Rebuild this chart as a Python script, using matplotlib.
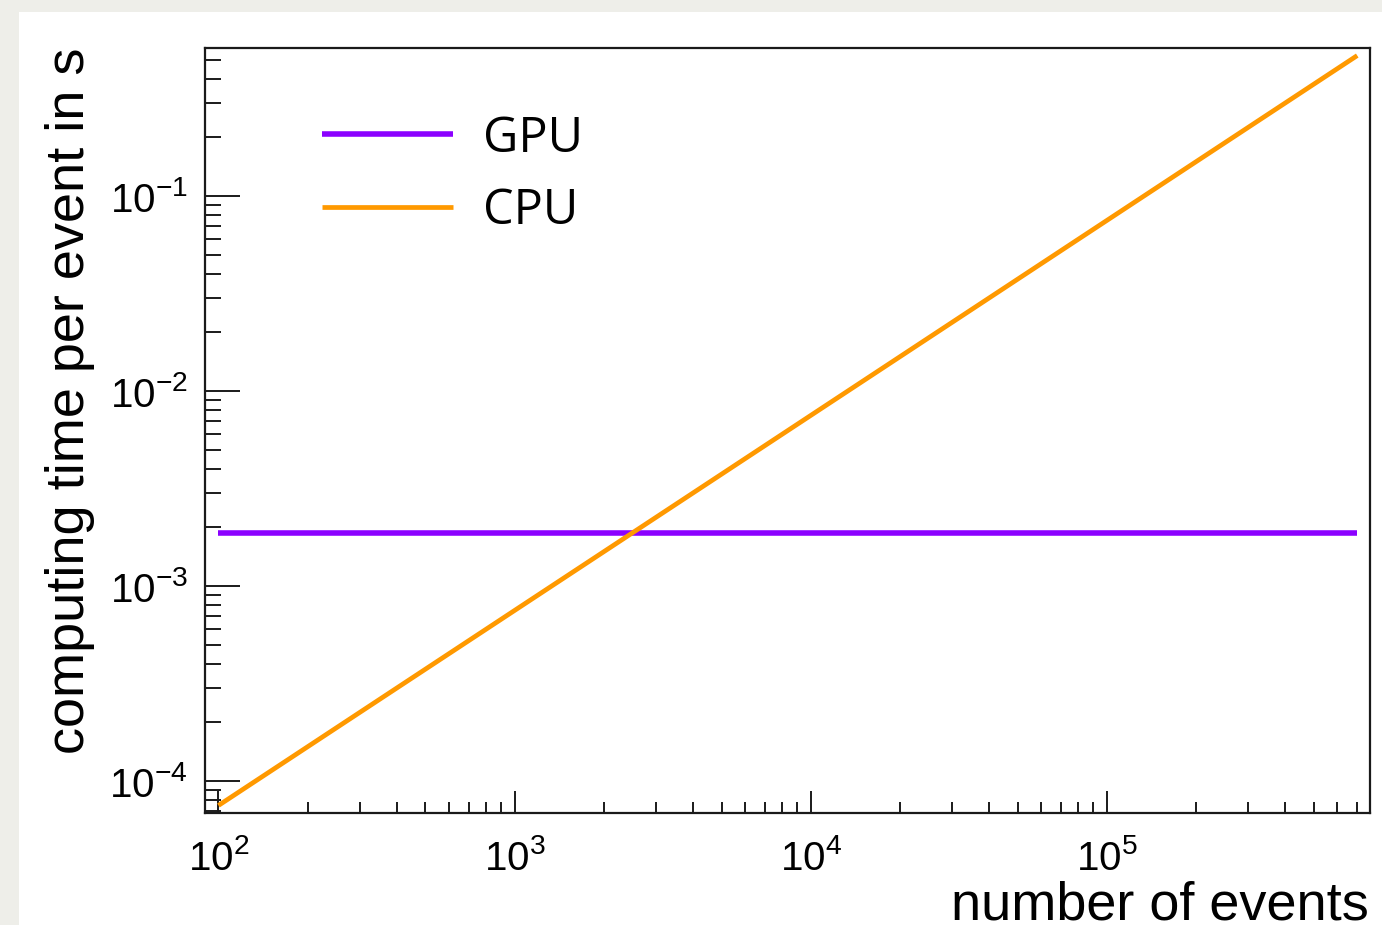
import matplotlib
matplotlib.use("Agg")
import matplotlib.pyplot as plt
from matplotlib.patches import Rectangle
from matplotlib.ticker import LogLocator, NullFormatter

# ---- data ----
n_events = [100, 1000, 10000, 100000, 700000]
gpu_time = [1.86e-3, 1.86e-3, 1.86e-3, 1.86e-3, 1.86e-3]
cpu_time = [7.5e-5, 7.5e-4, 7.5e-3, 7.5e-2, 0.525]
series_labels = ["GPU", "CPU"]
x_title = "number of events"
y_title = "computing time per event in s"

plt.rcParams['mathtext.fontset'] = 'custom'
plt.rcParams['mathtext.rm'] = 'Liberation Sans'
plt.rcParams['mathtext.it'] = 'Liberation Sans'
plt.rcParams['mathtext.bf'] = 'Liberation Sans'
plt.rcParams['font.family'] = ['Liberation Sans', 'DejaVu Sans']

W, H = 1382, 925
fig = plt.figure(figsize=(W / 100, H / 100), dpi=100)
fig.patch.set_facecolor('#eeeee9')
fig.patches.append(Rectangle((19 / W, 0), 1, 1 - 12 / H, transform=fig.transFigure,
                             facecolor='white', edgecolor='none', zorder=-10))

L, R, T, B = 204.5, 1370, 48, 813
ax = fig.add_axes([L / W, 1 - B / H, (R - L) / W, (B - T) / H])
ax.set_facecolor('none')
ax.set_xscale('log')
ax.set_yscale('log')
ax.set_xlim(89.7, 7.73e5)
ax.set_ylim(6.86e-5, 0.574)

ax.plot(n_events, gpu_time, color='#8b00ff', lw=4.0, label=series_labels[0], solid_capstyle='butt')
ax.plot(n_events, cpu_time, color='#ff9900', lw=3.4, label=series_labels[1], solid_capstyle='butt')

for s in ax.spines.values():
    s.set_linewidth(1.6)
    s.set_color('#1a1a1a')

ax.xaxis.set_major_locator(LogLocator(base=10, numticks=20))
ax.xaxis.set_minor_locator(LogLocator(base=10, subs=range(2, 10), numticks=20))
ax.yaxis.set_major_locator(LogLocator(base=10, numticks=20))
ax.yaxis.set_minor_locator(LogLocator(base=10, subs=range(2, 10), numticks=20))
ax.xaxis.set_minor_formatter(NullFormatter())
ax.yaxis.set_minor_formatter(NullFormatter())

ax.tick_params(axis='x', which='major', direction='in', length=15.5, width=1.4,
               labelsize=29, pad=18.5, colors='#1a1a1a', labelcolor='black')
ax.tick_params(axis='x', which='minor', direction='in', length=8, width=1.4, colors='#1a1a1a')
ax.tick_params(axis='y', which='major', direction='in', length=25, width=1.4,
               labelsize=29, pad=12, colors='#1a1a1a', labelcolor='black')
ax.tick_params(axis='y', which='minor', direction='in', length=11.5, width=1.4, colors='#1a1a1a')
ax.tick_params(top=False, right=False, which='both')

leg = ax.legend(loc='upper left', bbox_to_anchor=(322 / W, 1 - 114 / H),
                bbox_transform=fig.transFigure, frameon=False,
                prop={'family': 'Open Sans', 'size': 35},
                handlelength=2.7, handletextpad=0.62, labelspacing=0.47,
                borderpad=0, borderaxespad=0)

fig.text(R / W - 0.001, 1 - 920 / H, x_title, ha='right', va='baseline', fontsize=39)
fig.text(70 / W, 1 - 48 / H, y_title, ha='center', va='top', rotation=90, fontsize=39)

fig.savefig('out.png', dpi=100, facecolor=fig.get_facecolor())
